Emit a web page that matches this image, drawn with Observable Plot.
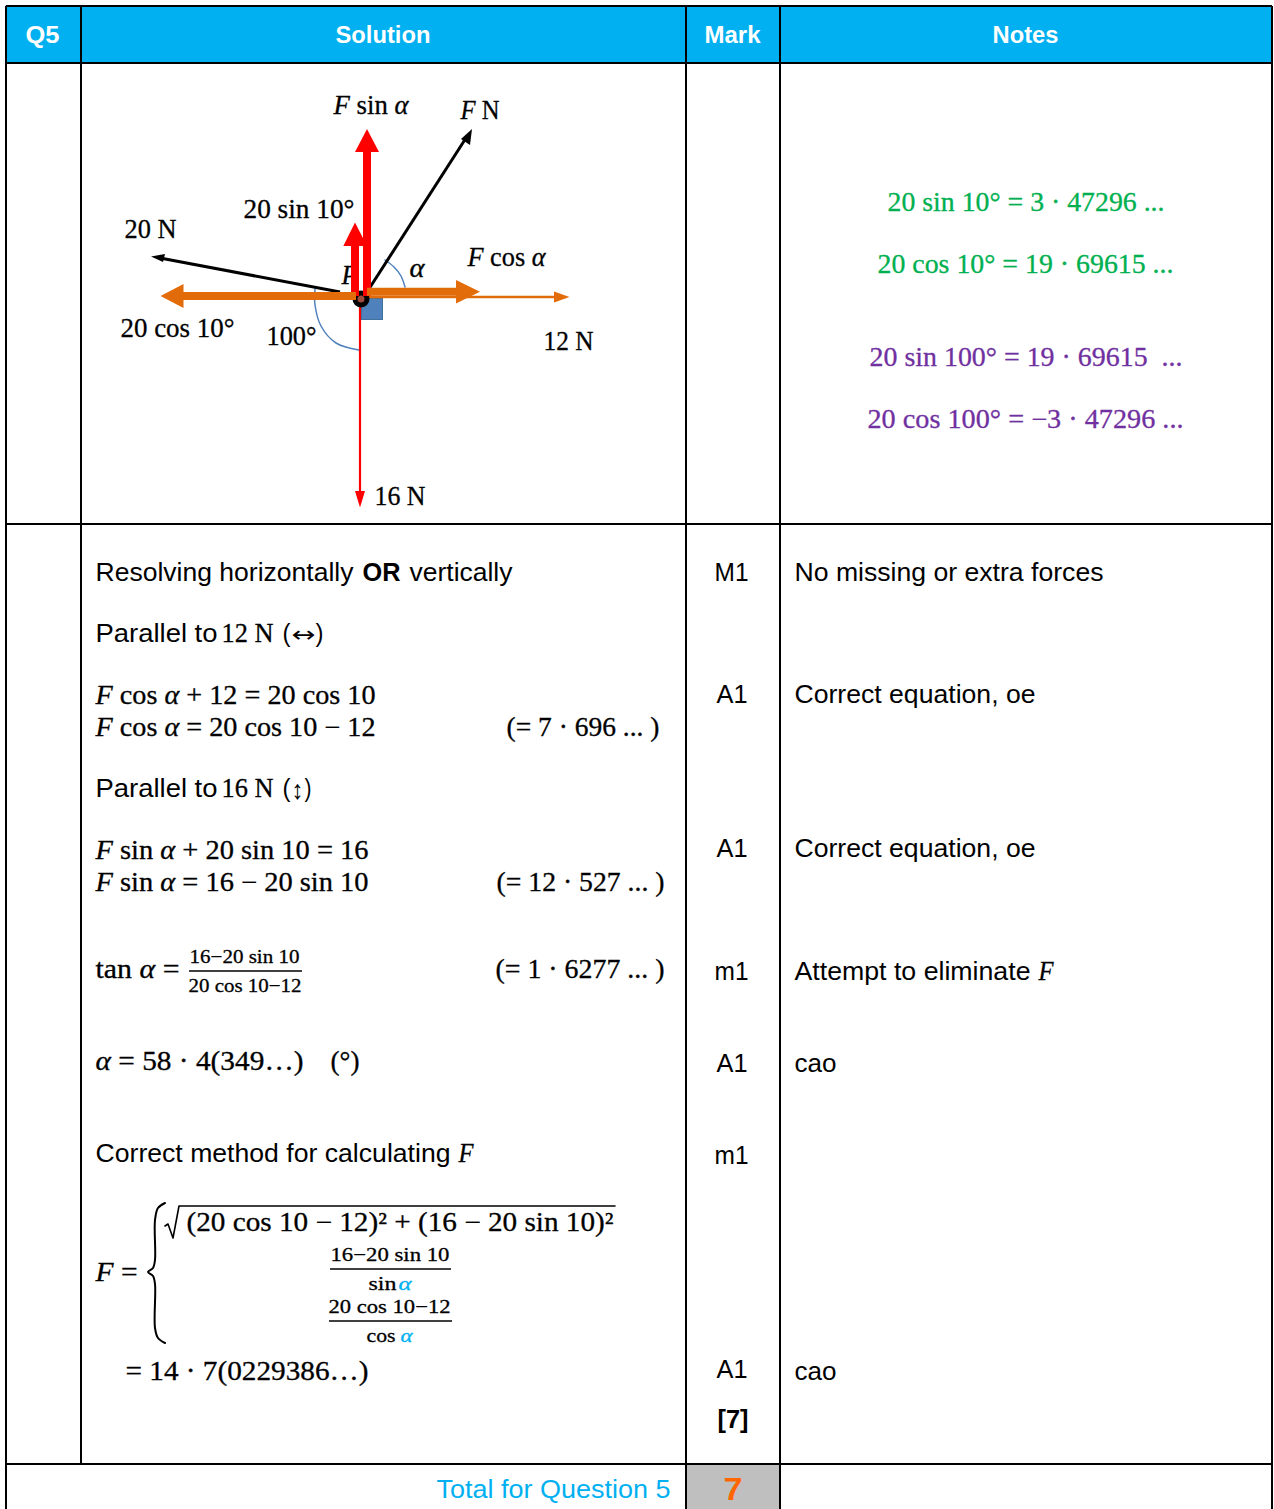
<!DOCTYPE html>
<html>
<head>
<meta charset="utf-8">
<style>html,body{margin:0;padding:0;background:#fff;overflow:hidden}svg{display:block}</style>
<script src="https://cdn.jsdelivr.net/npm/d3@7"></script>
<script src="https://cdn.jsdelivr.net/npm/@observablehq/plot@0.6"></script>
</head>
<body>
<div id="chart"></div>
<script>
// ---- Text content ("*" toggles math italic) ----
const headerLabels = ["Q5", "Solution", "Mark", "Notes"];
const markLabels = ["M1", "A1", "A1", "m1", "A1", "m1", "A1"];
const markTotalLabel = ["[7]"];
const noteLabels = ["No missing or extra forces", "Correct equation, oe", "Correct equation, oe", "Attempt to eliminate", "cao", "cao"];
const noteItalic = ["*F*"];
const greenNotes = ["20 sin 10° = 3 · 47296 ...", "20 cos 10° = 19 · 69615 ..."];
const purpleNotes = ["20 sin 100° = 19 · 69615  ...", "20 cos 100° = −3 · 47296 ..."];
const diagramLabels = ["*P*", "*F* sin *α*", "*F* N", "20 sin 10°", "20 N", "*F* cos *α*", "*α*", "20 cos 10°", "100°", "12 N", "16 N"];
const solutionSans = ["Resolving horizontally", "vertically", "Parallel to", "(", ")", "Parallel to", "(", ")", "Correct method for calculating"];
const solutionBold = ["OR"];
const arrowWide = ["↔"];
const arrowTall = ["↕"];
const solutionMath = [
  "12 N", "*F* cos *α* + 12 = 20 cos 10", "*F* cos *α* = 20 cos 10 − 12", "(= 7 · 696 ... )",
  "16 N", "*F* sin *α* + 20 sin 10 = 16", "*F* sin *α* = 16 − 20 sin 10", "(= 12 · 527 ... )",
  "tan *α* =", "(= 1 · 6277 ... )", "*α* = 58 · 4(349…)", "(°)", "*F*", "*F* =",
  "(20 cos 10 − 12)² + (16 − 20 sin 10)²", "= 14 · 7(0229386…)"
];
const fractionText = ["16−20 sin 10", "20 cos 10−12", "16−20 sin 10", "sin", "20 cos 10−12", "cos"];
const fractionAlpha = ["*α*", "*α*"];
const totalLabel = ["Total for Question 5"];
const totalValue = ["7"];

// ---- Layout: [left, right, baseline] in page pixels ----
const headerPos = [[26,60,43],[336,431,43],[705,761,43],[993,1059,43]];
const markPos = [[715,749,581],[717,748,703],[717,748,857],[715,749,980],[717,748,1072],[715,749,1164],[717,748,1378]];
const markTotalPos = [[718,749,1428]];
const notePos = [[795,1104,581],[795,1036,703],[795,1036,857],[795,1031,980],[795,837,1072],[795,837,1380]];
const noteItalicPos = [[1039,1054,980]];
const greenPos = [[888,1165,211],[878,1174,273]];
const purplePos = [[870,1183,366],[868,1184,428]];
const diagramPos = [[341,357,283],[333,408,113],[460,499,118],[243,354,217],[124,176,237],[467,545,265],[409,424,276],[120,234,336],[266,316,344],[543,593,349],[374,425,504]];
const sansPos = [[96,354,581],[410,513,581],[96,218,642],[283,291,642],[316,324,642],[96,218,797],[283,291,797],[305,312,797],[96,451,1162]];
const boldPos = [[363,401,581]];
const arrowWidePos = [[292,316,642]];
const arrowTallPos = [[292,304,799]];
const mathPos = [
  [222,274,642],[96,376,704],[96,376,736],[507,660,736],
  [222,274,797],[96,369,859],[96,369,891],[497,665,891],
  [96,180,978],[496,665,978],[96,304,1070],[331,360,1070],[459,474,1162],[96,138,1281],
  [187,614,1231],[126,369,1380]
];
const fractionPos = [[190,300,963],[189,302,992],[331,450,1261],[369,397,1290],[329,451,1313],[367,396,1342]];
const fractionAlphaPos = [[399,412,1290],[401,413,1342]];
const totalPos = [[437,671,1498]];
const totalValuePos = [[724,743,1500]];

// ---- Table frame ----
const gridLines = [
  [6,6,6,1510],[81,6,81,1464],[686,6,686,1510],[780,6,780,1510],[1272,6,1272,1510],
  [6,6,1272,6],[6,63,1272,63],[6,524,1272,524],[6,1464,1272,1464]
];
const fills = [{x1:6,x2:1272,y1:6,y2:63,c:"#00b0f0"},{x1:686,x2:780,y1:1464,y2:1510,c:"#bfbfbf"}];

// ---- Force diagram geometry ----
const thinShafts = [
  {p:[340,292,160,258],c:"#000",w:3},
  {p:[367,292,466,138],c:"#000",w:3},
  {p:[360,300,360,494],c:"#f00",w:2.2},
  {p:[360,297,556,297],c:"#e36c0a",w:2.6}
];
const thickShafts = [
  {p:[367,296,367,150],c:"#f00",w:8},
  {p:[355,296,355,244],c:"#f00",w:8},
  {p:[367,291.7,458,291.7],c:"#e36c0a",w:8},
  {p:[356,296,181,296],c:"#e36c0a",w:8}
];
const heads = [
  {p:[[151,256.5],[165,254],[163,262]],c:"#000"},
  {p:[[472,129],[470,145],[461,139]],c:"#000"},
  {p:[[360,507.5],[355,491],[365,491]],c:"#f00"},
  {p:[[569.5,297],[554,291.5],[554,302.5]],c:"#e36c0a"},
  {p:[[367,129],[355,152],[379,152]],c:"#f00"},
  {p:[[355,222.5],[343.3,246],[367,246]],c:"#f00"},
  {p:[[480,291.7],[456,280],[456,303.5]],c:"#e36c0a"},
  {p:[[160.5,296],[183.5,284],[183.5,308]],c:"#e36c0a"}
];
const alphaArc = [[385,260],[394,267],[401,276],[405,287]];
const obtuseArc = [[315,289],[315,305],[321,326],[336,343],[359,350]];
const squareBox = [{x1:362,x2:383,y1:299,y2:320}];
const pivotPoint = [[361,299]];
const brace = [[165,1203],[158,1208],[155,1220],[155,1260],[153,1268],[148,1272],[153,1276],[155,1284],[155,1328],[158,1338],[165,1343]];
const radical = [[165,1226],[168,1224],[173,1238],[179,1206],[615,1206]];
const fractionRules = [[189,971,302,971],[330,1269,451,1269],[329,1321,452,1321]];

// ---- Text pieces fitted to their measured extents ----
const SANS = '"Liberation Sans"', SERIF = '"Liberation Serif"', DEJAVU = '"DejaVu Sans"';
const ctx = document.createElement("canvas").getContext("2d");
const groups = new Map();
function place(strings, positions, {family = SERIF, size = 26.67, weight = "normal", color = "#000", halo = 0} = {}) {
  if (family === SERIF) halo = 0.3;
  strings.forEach((s, i) => {
    const [x0, x1, y] = positions[i];
    const tokens = s.split("*").map((t, k) => ({t, italic: k % 2 === 1})).filter(d => d.t.length);
    const w = (t, it) => { ctx.font = `${it ? "italic " : ""}${weight} ${size}px ${family}`; return ctx.measureText(t).width; };
    const total = d3.sum(tokens, d => w(d.t, d.italic));
    const k = (x1 - x0) / total;
    let x = x0;
    for (const d of tokens) {
      const lead = d.t.length - d.t.trimStart().length;
      const core = d.t.trim();
      if (core) {
        const entry = {x: x + w(d.t.slice(0, lead), d.italic) * k, y, text: core, len: w(core, d.italic) * k};
        const key = [family, size, weight, color, d.italic].join("|");
        if (!groups.has(key)) groups.set(key, {family, size, weight, color, halo, italic: d.italic, rows: []});
        groups.get(key).rows.push(entry);
      }
      x += w(d.t, d.italic) * k;
    }
  });
}
place(headerLabels, headerPos, {family: SANS, size: 24, weight: "bold", color: "#fff"});
place(markLabels, markPos, {family: SANS});
place(markTotalLabel, markTotalPos, {family: SANS, weight: "bold"});
place(noteLabels, notePos, {family: SANS});
place(noteItalic, noteItalicPos);
place(greenNotes, greenPos, {color: "#00b050"});
place(purpleNotes, purplePos, {color: "#7030a0"});
place(solutionSans, sansPos, {family: SANS});
place(solutionBold, boldPos, {family: SANS, weight: "bold"});
place(arrowWide, arrowWidePos, {family: DEJAVU, size: 22});
place(arrowTall, arrowTallPos, {family: SANS, size: 26.67});
place(solutionMath, mathPos);
place(fractionText, fractionPos, {size: 19.5});
place(fractionAlpha, fractionAlphaPos, {size: 19.5, color: "#00b0f0"});
place(totalLabel, totalPos, {family: SANS, color: "#00b0f0"});
place(totalValue, totalValuePos, {family: SANS, size: 32, weight: "bold", color: "#ff6600"});

const tableText = [...groups.values()];
groups.clear();
place(diagramLabels.slice(0, 1), diagramPos.slice(0, 1));
const hiddenLabel = [...groups.values()];
groups.clear();
place(diagramLabels.slice(1), diagramPos.slice(1));
const labelText = [...groups.values()];

const textMark = nudge => g => Plot.text(g.rows, {
  x: "x", y: "y", text: "text", dx: nudge, dy: nudge,
  fontFamily: g.family, fontSize: g.size, fontWeight: g.weight,
  fontStyle: g.italic ? "italic" : "normal", fill: g.color,
  stroke: g.halo ? g.color : "none", strokeWidth: g.halo,
  textAnchor: "start", lineAnchor: "bottom",
  render(index, scales, values, dims, context, next) {
    const node = next(index, scales, values, dims, context);
    d3.select(node).selectAll("text")
      .attr("textLength", (_, i) => g.rows[index[i]].len)
      .attr("lengthAdjust", "spacingAndGlyphs");
    return node;
  }
});
const seg = (rows, opts) => Plot.link(rows, {x1: d => d[0], y1: d => d[1], x2: d => d[2], y2: d => d[3], ...opts});
const shaft = s => seg([s.p], {stroke: s.c, strokeWidth: s.w});
const poly = h => Plot.line(h.p, {x: d => d[0], y: d => d[1], fill: h.c, stroke: "none"});
const curve = (pts, opts) => Plot.line(pts, {x: d => d[0], y: d => d[1], curve: "catmull-rom", ...opts});

const chart = Plot.plot({
  width: 1274, height: 1509,
  marginTop: 0, marginRight: 0, marginBottom: 0, marginLeft: 0,
  x: {domain: [0.5, 1274.5], range: [0, 1274], axis: null},
  y: {domain: [0.5, 1509.5], range: [0, 1509], axis: null},
  style: {background: "#fff"},
  marks: [
    ...fills.map(f => Plot.rect([f], {x1: "x1", x2: "x2", y1: "y1", y2: "y2", fill: f.c})),
    seg(gridLines, {stroke: "#000", strokeWidth: 2}),
    // force diagram
    ...hiddenLabel.map(textMark(0.5)),
    Plot.rect(squareBox, {x1: "x1", x2: "x2", y1: "y1", y2: "y2", fill: "#4f81bd", stroke: "#41719c", strokeWidth: 1}),
    curve(alphaArc, {stroke: "#4f81bd", strokeWidth: 1.5}),
    curve(obtuseArc, {stroke: "#4f81bd", strokeWidth: 1.5}),
    ...thinShafts.map(shaft),
    ...heads.slice(0, 4).map(poly),
    Plot.dot(pivotPoint, {x: d => d[0], y: d => d[1], r: 6, fill: "#9e4a3c", stroke: "#000", strokeWidth: 5}),
    ...thickShafts.map(shaft),
    ...heads.slice(4).map(poly),
    // maths furniture
    curve(brace, {stroke: "#000", strokeWidth: 2}),
    Plot.line(radical, {x: d => d[0], y: d => d[1], stroke: "#000", strokeWidth: 1.6, curve: "linear"}),
    seg(fractionRules, {stroke: "#000", strokeWidth: 1.6}),
    ...tableText.map(textMark(-0.5)),
    ...labelText.map(textMark(0.5))
  ]
});
document.getElementById("chart").append(chart);
</script>
</body>
</html>
